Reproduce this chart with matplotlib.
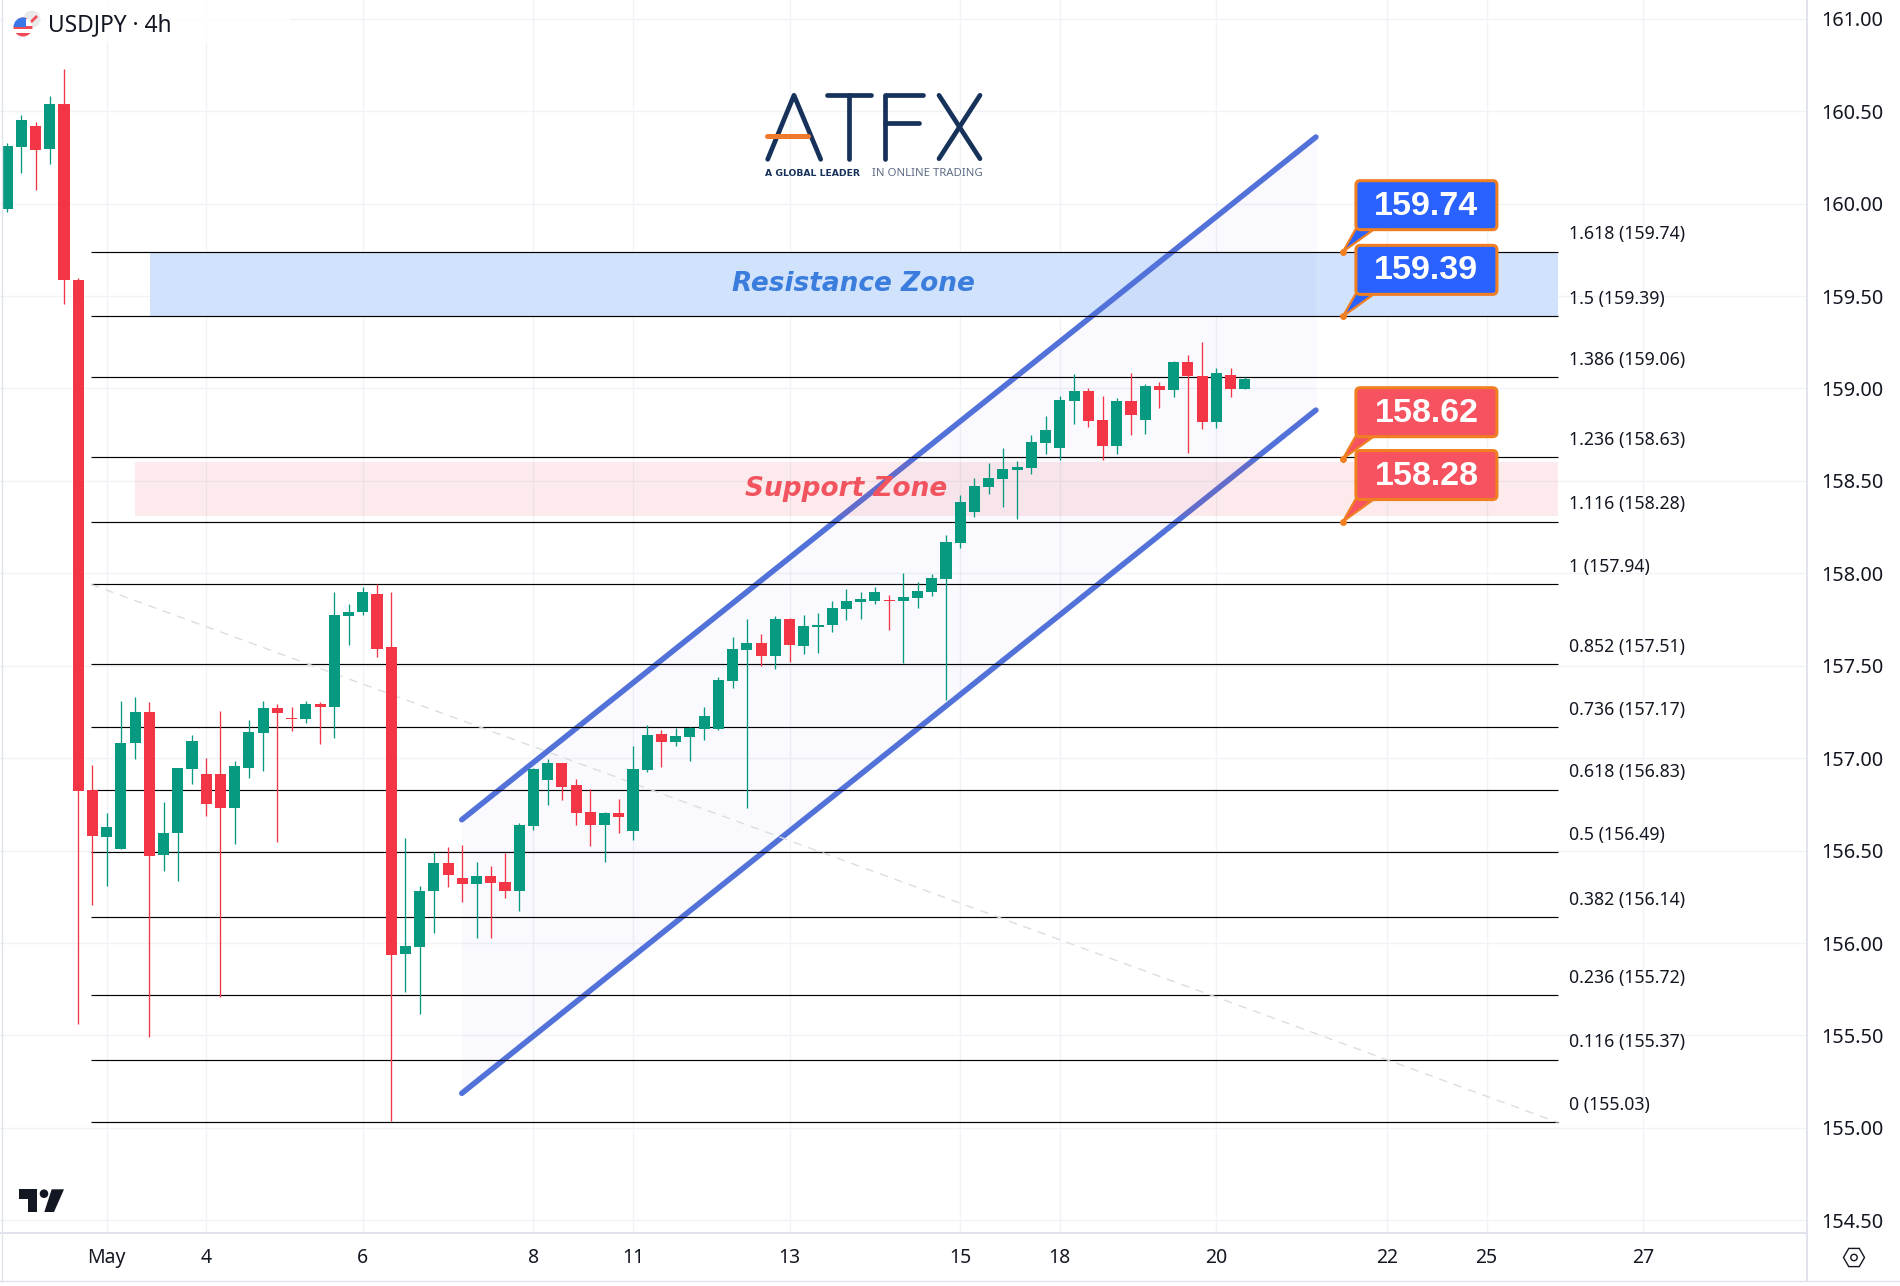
import numpy as np
import matplotlib
matplotlib.use('Agg')
import matplotlib.pyplot as plt
from matplotlib.patches import Rectangle, Polygon, Circle, FancyBboxPatch, RegularPolygon

# 4h candles
opens = [159.971,160.305,160.419,160.296,160.539,159.587,156.828,156.574,156.511,157.083,
         157.250,156.476,156.594,156.942,156.915,156.915,156.731,156.946,157.137,157.271,
         157.219,157.211,157.294,157.277,157.770,157.791,157.888,157.602,155.940,155.979,
         156.282,156.433,156.352,156.319,156.362,156.329,156.283,156.633,156.882,156.974,
         156.855,156.709,156.639,156.703,156.606,156.936,157.131,157.087,157.115,157.158,
         157.158,157.418,157.585,157.623,157.553,157.753,157.607,157.710,157.720,157.807,
         157.845,157.850,157.856,157.852,157.867,157.899,157.969,158.164,158.332,158.467,
         158.510,158.559,158.570,158.705,158.678,158.932,158.986,158.829,158.689,158.932,
         158.829,159.013,158.992,159.143,159.067,158.819,159.073,158.997]
highs = [160.329,160.479,160.441,160.582,160.728,159.598,156.963,156.704,157.308,157.331,
         157.304,156.762,156.946,157.126,157.000,157.255,156.985,157.207,157.308,157.294,
         157.277,157.308,157.306,157.898,157.834,157.925,157.940,157.898,156.567,156.306,
         156.491,156.520,156.530,156.439,156.416,156.485,156.648,156.945,156.994,156.974,
         156.886,156.831,156.709,156.779,157.066,157.178,157.152,157.161,157.169,157.277,
         157.437,157.656,157.753,157.672,157.769,157.758,157.775,157.785,157.850,157.915,
         157.899,157.926,157.883,158.002,157.953,157.996,158.207,158.424,158.516,158.597,
         158.678,158.608,158.748,158.851,158.959,159.078,159.003,158.959,158.948,159.084,
         159.024,159.035,159.148,159.181,159.251,159.111,159.111,159.062]
lows = [159.956,160.166,160.074,160.215,159.457,155.563,156.205,156.308,156.511,156.996,
        155.493,156.391,156.337,156.859,156.687,155.710,156.536,156.892,156.930,156.546,
        157.147,157.190,157.077,157.110,157.613,157.774,157.546,155.037,155.735,155.617,
        156.056,156.302,156.222,156.027,156.027,156.244,156.173,156.611,156.747,156.774,
        156.639,156.525,156.438,156.595,156.557,156.925,156.952,157.066,156.985,157.098,
        157.154,157.380,156.731,157.499,157.482,157.520,157.564,157.569,157.683,157.747,
        157.753,157.834,157.693,157.513,157.813,157.877,157.315,158.137,158.305,158.429,
        158.359,158.294,158.537,158.645,158.613,158.808,158.792,158.613,158.645,158.748,
        158.754,158.894,158.954,158.651,158.781,158.786,158.954,158.997]
closes = [160.311,160.452,160.290,160.539,159.587,156.822,156.580,156.627,157.083,157.250,
          156.470,156.594,156.946,157.093,156.752,156.731,156.959,157.141,157.271,157.244,
          157.211,157.294,157.277,157.774,157.791,157.898,157.590,155.936,155.983,156.282,
          156.433,156.369,156.319,156.362,156.325,156.282,156.639,156.941,156.974,156.844,
          156.703,156.639,156.703,156.682,156.941,157.125,157.087,157.120,157.163,157.228,
          157.423,157.591,157.623,157.553,157.753,157.612,157.715,157.720,157.812,157.850,
          157.861,157.899,157.850,157.872,157.904,157.975,158.170,158.386,158.472,158.516,
          158.564,158.575,158.710,158.775,158.938,158.986,158.824,158.689,158.932,158.856,
          159.013,158.992,159.143,159.067,158.819,159.084,158.997,159.051]

fib_ratios = ['1.618','1.5','1.386','1.236','1.116','1','0.852','0.736','0.618','0.5','0.382','0.236','0.116','0']
fib_prices = [159.74,159.39,159.06,158.63,158.28,157.94,157.51,157.17,156.83,156.49,156.14,155.72,155.37,155.03]

channel_x = [31.96,92.0]
channel_upper = [156.667,160.36]
channel_lower = [155.187,158.883]

callout_prices = [159.74,159.39,158.62,158.28]
callout_x = 93.9

price_ticks = [154.5,155,155.5,156,156.5,157,157.5,158,158.5,159,159.5,160,160.5,161]
date_ticks = [7,14,25,37,44,55,67,74,85,97,104,115]
date_labels = ['May','4','6','8','11','13','15','18','20','22','25','27']

GREEN = '#089981'
RED = '#f23645'
INK = '#131722'
GRID = '#f0f3f7'
BORDER = '#e0e3eb'
NAVY = '#16315a'
ORANGE = '#f07f22'

W, H = 1900, 1286
PX_X = 14.226   # pixels per candle
PX_Y = 184.86   # pixels per 1.00 of price
AX_W, AX_H = 1807, 1233

plt.rcParams['font.family'] = ['Noto Sans', 'DejaVu Sans']

fig = plt.figure(figsize=(W/100, H/100), dpi=100)
ax = fig.add_axes([0, 1-AX_H/H, AX_W/W, AX_H/H])
ax.set_xlim(-7.1/PX_X, (AX_W-7.1)/PX_X)
ax.set_ylim(160-(AX_H-203.6)/PX_Y, 160+203.6/PX_Y)

ax.yaxis.tick_right()
ax.set_yticks(price_ticks)
ax.set_yticklabels(['%.2f' % p for p in price_ticks], fontsize=14.3, color=INK)
ax.set_xticks(date_ticks)
ax.set_xticklabels(date_labels, fontsize=14, color=INK)
ax.tick_params(axis='y', length=0, pad=10.3)
ax.tick_params(axis='x', length=0, pad=11)
ax.grid(True, color=GRID, lw=1)
ax.set_axisbelow(True)
for s in ['top', 'left']:
    ax.spines[s].set_visible(False)
for s in ['right', 'bottom']:
    ax.spines[s].set_color(BORDER)
    ax.spines[s].set_linewidth(1.4)

# zones
fib_left, fib_right = 5.9, 109.0
ax.add_patch(Rectangle((10.05, fib_prices[1]), fib_right-10.05, fib_prices[0]-fib_prices[1],
                       color='#d0e2fc', lw=0, zorder=1))

# channel
ax.fill_between(channel_x, channel_lower, channel_upper, color='#4a4ae0', alpha=0.032, lw=0, zorder=1.5)
ax.plot(channel_x, channel_upper, color='#5272d9', lw=4.0, solid_capstyle='round', zorder=2)
ax.plot(channel_x, channel_lower, color='#5272d9', lw=4.0, solid_capstyle='round', zorder=2)

ax.add_patch(Rectangle((9.0, 158.31), fib_right-9.0, 158.604-158.31,
                       color='#f5394a', alpha=0.1, lw=0, zorder=2.2))

# fib levels and the dashed trend line
ax.hlines(fib_prices, fib_left, fib_right, color='black', lw=0.85, zorder=2.5)
ax.plot([fib_left, fib_right], [fib_prices[5], fib_prices[-1]], color='#dcdde0', lw=1, dashes=(6, 5), zorder=2.6)
for r, p in zip(fib_ratios, fib_prices):
    ax.annotate('%s (%.2f)' % (r, p), xy=(fib_right, p), xytext=(8, 12.4), textcoords='offset points',
                fontsize=12.75, color=INK, va='center', ha='left', zorder=3, clip_on=False)

# candles
idx = np.arange(len(opens))
o = np.array(opens)
c = np.array(closes)
cols = [GREEN if b >= a else RED for a, b in zip(opens, closes)]
ax.vlines(idx, lows, highs, colors=cols, lw=0.95, zorder=4)
ax.bar(idx, np.abs(c-o), bottom=np.minimum(o, c), width=0.78, color=cols, lw=0, zorder=5)

ax.text(59.5, 159.565, 'Resistance Zone', fontsize=19, style='italic', fontweight='bold', color='#3b7ddd',
        family='DejaVu Sans', ha='center', va='center', zorder=6)
ax.text(59.0, 158.455, 'Support Zone', fontsize=19, style='italic', fontweight='bold', color='#f2545f',
        family='DejaVu Sans', ha='center', va='center', zorder=6)

# callouts, sizes in px from the anchor point
for i, p in enumerate(callout_prices):
    col = '#2962ff' if i < 2 else '#f7525f'
    x0 = callout_x+13/PX_X
    x1 = callout_x+154/PX_X
    y0 = p+22/PX_Y
    y1 = p+71/PX_Y
    ax.add_patch(Polygon([(callout_x, p), (x0, y0+1/PX_Y), (callout_x+32/PX_X, y0+1/PX_Y)], closed=True,
                         facecolor=col, edgecolor=ORANGE, lw=1.6, zorder=7+i*0.1))
    ax.plot([callout_x], [p], 'o', color=ORANGE, ms=5, mew=0, zorder=7.05+i*0.1)
    box = FancyBboxPatch((x0, y0), x1-x0, y1-y0, boxstyle='round,pad=0,rounding_size=0.3',
                         mutation_aspect=PX_X/PX_Y, facecolor=col, edgecolor=ORANGE, lw=2.2, zorder=7.07+i*0.1)
    ax.add_patch(box)
    ax.text((x0+x1)/2, (y0+y1)/2-1/PX_Y, '%.2f' % p, color='white', fontsize=24.5, fontweight='bold',
            ha='center', va='center', family='Liberation Sans', zorder=7.09+i*0.1)

# overlay in pixel coordinates for logos and icons
ov = fig.add_axes([0, 0, 1, 1], zorder=10)
ov.set_xlim(0, W)
ov.set_ylim(H, 0)
ov.axis('off')
ov.patch.set_alpha(0)

ov.plot([0, W], [1281, 1281], color=BORDER, lw=1)
ov.plot([1.5, 1.5], [0, 1281], color=BORDER, lw=1)
ov.plot([1807, 1807], [1233, 1281], color=BORDER, lw=1.4)

# header
ov.add_patch(Rectangle((2, 0), 288, 42, color='white', alpha=0.9, lw=0))
ov.text(48, 25.5, 'USDJPY · 4h', fontsize=16.4, color=INK, va='center', ha='left')
ov.add_patch(Circle((32, 19), 8.5, color='#e9e9ec', lw=0))
ov.add_patch(Polygon([(29, 22), (36, 15), (38, 17), (31, 24)], color='#f0505a', lw=0))
ov.add_patch(Circle((23, 27), 9.5, color='white', lw=0))
clip = Circle((23, 27), 9.5, transform=ov.transData)
for yy, cc in [(25.5, '#ef4a56'), (33, '#ef4a56')]:
    r = ov.add_patch(Rectangle((13, yy), 20, 3.5, color=cc, lw=0))
    r.set_clip_path(clip)
r = ov.add_patch(Rectangle((13, 17), 20, 1.5, color='#ef4a56', lw=0))
r.set_clip_path(clip)
r = ov.add_patch(Rectangle((13, 17), 13, 10, color='#3b78e7', lw=0))
r.set_clip_path(clip)

# ATFX logo
strokes = [[(767.7, 159.3), (794, 95.3), (820.7, 159.3)],
           [(827.3, 95.3), (870.7, 95.3)],
           [(849.3, 95.3), (849.3, 159.3)],
           [(885, 159.3), (885, 95.3), (922.7, 95.3)],
           [(885, 122.7), (919.3, 122.7)],
           [(939, 95.3), (980, 158.7)],
           [(980, 95.3), (939, 158.7)]]
for s in strokes:
    xs, ys = zip(*s)
    ov.plot(xs, ys, color=NAVY, lw=3.4, solid_capstyle='round', solid_joinstyle='round')
ov.plot([767, 808], [136, 136], color='#f07a2c', lw=3.6, solid_capstyle='round')
ov.text(765, 173, 'A GLOBAL LEADER', fontsize=6.7, fontweight='bold', color=NAVY, family='DejaVu Sans',
        va='center', ha='left')
ov.text(871.5, 173, 'IN ONLINE TRADING', fontsize=8.2, color='#5c6b84', va='center', ha='left')

# tradingview mark
ov.add_patch(Polygon([(19, 1189.3), (37.3, 1189.3), (37.3, 1212), (28, 1212), (28, 1198.7), (19, 1198.7)],
                     color=INK, lw=0))
ov.add_patch(Circle((44, 1193.7), 4.3, color=INK, lw=0))
ov.add_patch(Polygon([(51.7, 1189.3), (64, 1189.3), (54, 1212), (44.3, 1212)], color=INK, lw=0))

# settings icon
ov.add_patch(RegularPolygon((1854, 1257.5), 6, radius=10.5, orientation=np.pi/6, fill=False, edgecolor=INK, lw=1))
ov.add_patch(Circle((1854, 1257.5), 3.2, fill=False, edgecolor=INK, lw=1))

fig.savefig('out.png', dpi=100, facecolor='white')
